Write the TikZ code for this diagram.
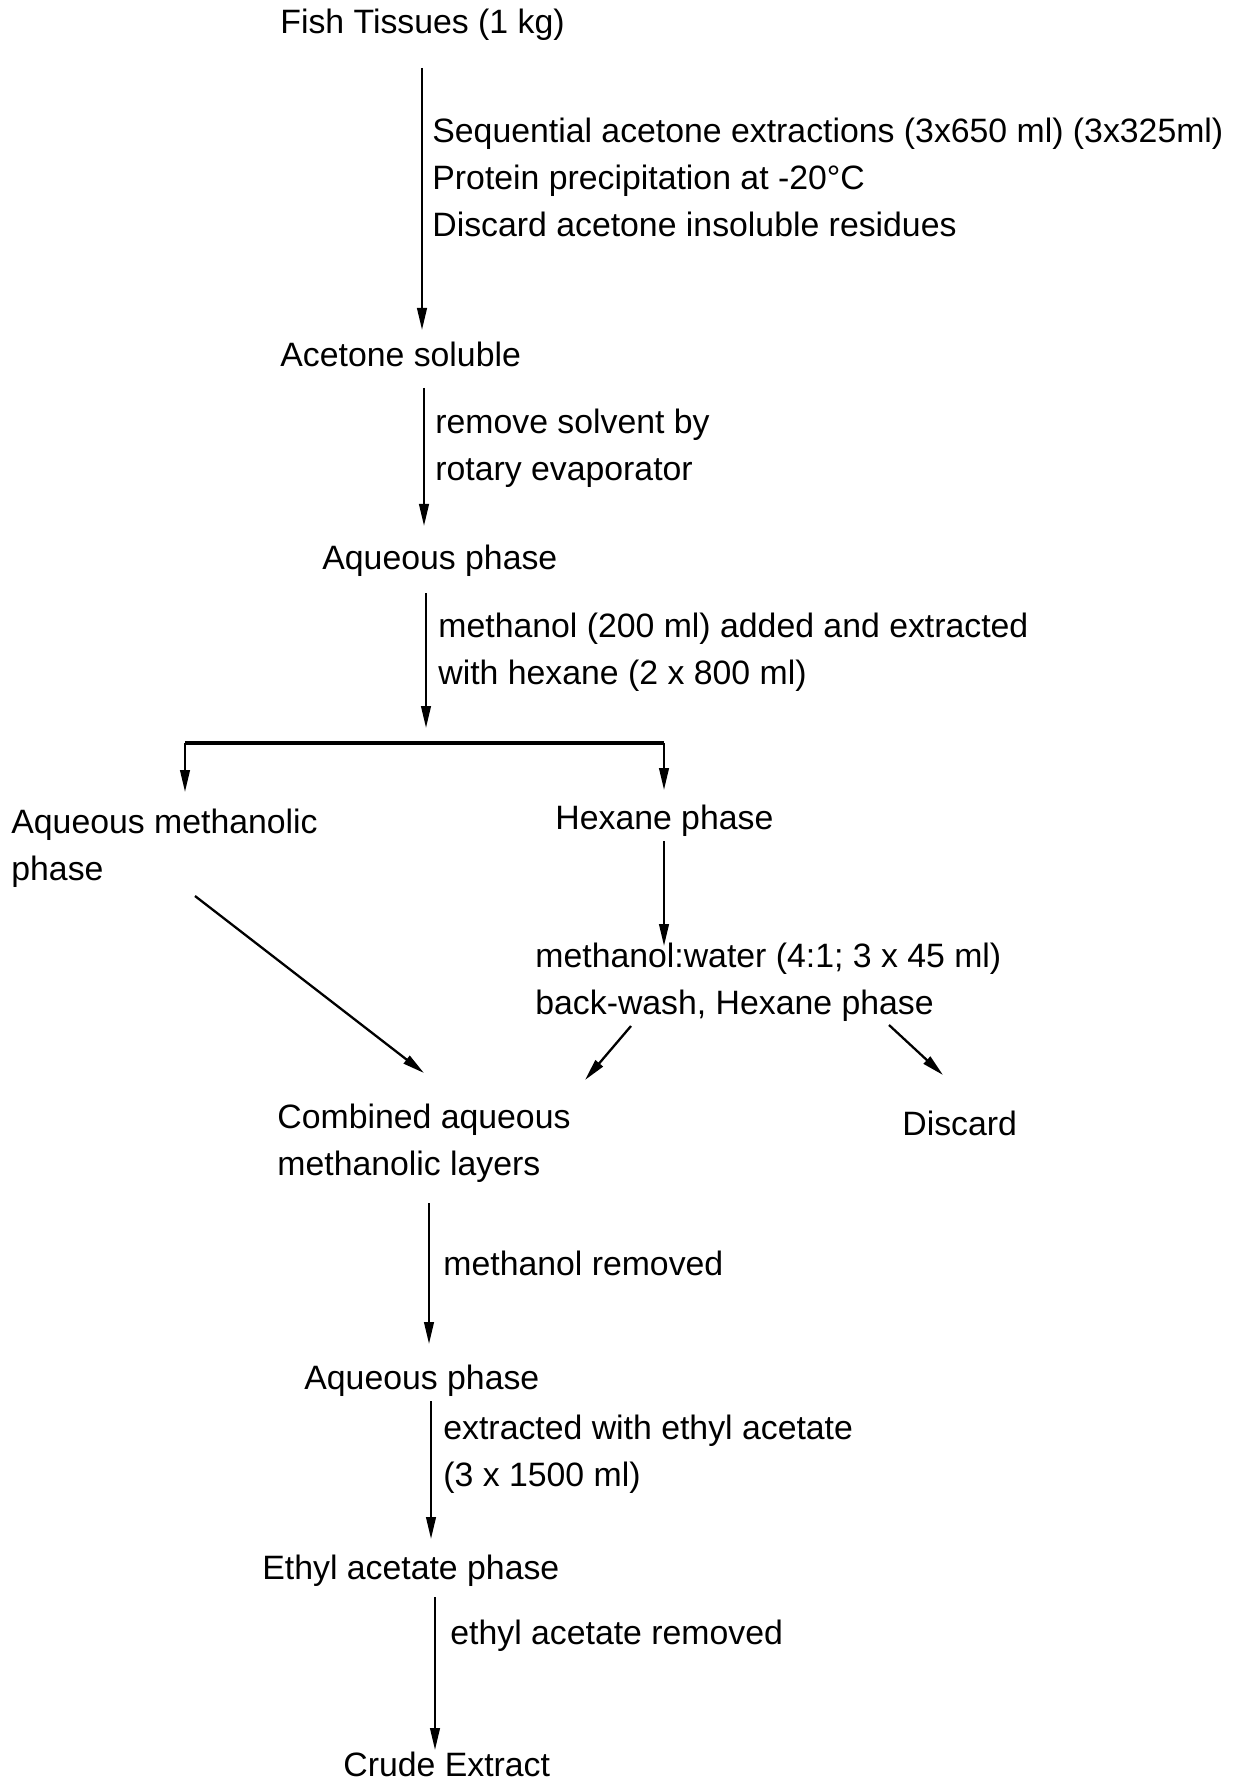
\documentclass[tikz,border=0pt]{standalone}
\usepackage{fontspec}
\setmainfont{Liberation Sans}
\usetikzlibrary{arrows.meta}
\begin{document}
\begin{tikzpicture}[x=0.5pt,y=-0.5pt,
  lbl/.style={anchor=west,inner sep=0pt,align=left,font=\fontsize{16.9}{23.5}\selectfont},
  arr/.style={line width=1.15pt,-{Triangle[length=11pt,width=4.8pt]}},
  bar/.style={line width=1.7pt}]
\useasboundingbox[fill=white] (0,0) rectangle (1233,1780);
% texts
\node[lbl] (fish) at (280,25) {Fish Tissues (1 kg)};
\node[lbl] (l1) at (432,177) {Sequential acetone extractions (3x650 ml) (3x325ml)\\Protein precipitation at -20°C\\Discard acetone insoluble residues};
\node[lbl] (aceton) at (280,354) {Acetone soluble};
\node[lbl] (l2) at (435,448) {remove solvent by\\rotary evaporator};
\node[lbl] (aq1) at (322,561) {Aqueous phase};
\node[lbl] (l3) at (438,652) {methanol (200 ml) added and extracted\\with hexane (2 x 800 ml)};
\node[lbl] (aqm) at (11,848) {Aqueous methanolic\\phase};
\node[lbl] (hex) at (555,821) {Hexane phase};
\node[lbl] (mw) at (535,982) {methanol:water (4:1; 3 x 45 ml)\\back-wash, Hexane phase};
\node[lbl] (comb) at (277,1143) {Combined aqueous\\methanolic layers};
\node[lbl] (disc) at (902,1123) {Discard};
\node[lbl] (l4) at (443,1263) {methanol removed};
\node[lbl] (aq2) at (304,1381) {Aqueous phase};
\node[lbl] (l5) at (443,1454) {extracted with ethyl acetate\\(3 x 1500 ml)};
\node[lbl] (eth) at (262,1571) {Ethyl acetate phase};
\node[lbl] (l6) at (450,1636) {ethyl acetate removed};
\node[lbl] (crude) at (343,1764) {Crude Extract};
% connector end points
\coordinate (a1s) at (422,68);   \coordinate (a1e) at (422,330);
\coordinate (a2s) at (424,388);  \coordinate (a2e) at (424,526);
\coordinate (a3s) at (426,593);  \coordinate (a3e) at (426,728);
\coordinate (bl) at (185,743);   \coordinate (br) at (664,743);
\coordinate (ble) at (185,792);  \coordinate (bre) at (664,790);
\coordinate (hs) at (664,841);   \coordinate (he) at (664,946);
\coordinate (ds) at (195,896);   \coordinate (de) at (424,1073);
\coordinate (bws) at (631,1026); \coordinate (bwe) at (585,1080);
\coordinate (dcs) at (889,1025); \coordinate (dce) at (943,1075);
\coordinate (a4s) at (429,1203); \coordinate (a4e) at (429,1344);
\coordinate (a5s) at (431,1401); \coordinate (a5e) at (431,1539);
\coordinate (a6s) at (435,1597); \coordinate (a6e) at (435,1750);
% connectors
\draw[arr] (a1s) -- (a1e);
\draw[arr] (a2s) -- (a2e);
\draw[arr] (a3s) -- (a3e);
\draw[bar] (bl) -- (br);
\draw[arr] (bl) -- (ble);
\draw[arr] (br) -- (bre);
\draw[arr] (hs) -- (he);
\draw[arr] (ds) -- (de);
\draw[arr] (bws) -- (bwe);
\draw[arr] (dcs) -- (dce);
\draw[arr] (a4s) -- (a4e);
\draw[arr] (a5s) -- (a5e);
\draw[arr] (a6s) -- (a6e);
\end{tikzpicture}
\end{document}
